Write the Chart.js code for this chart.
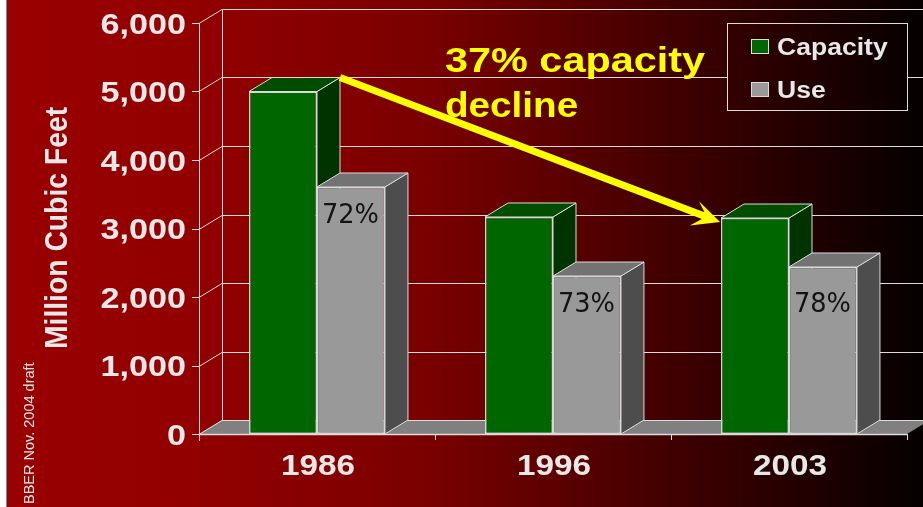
<!DOCTYPE html>
<html>
<head>
<meta charset="utf-8">
<title>Capacity and use</title>
<script src="https://cdn.jsdelivr.net/npm/chart.js@4"></script>
<style>
  html, body { margin: 0; padding: 0; background: #fff; overflow: hidden; }
  canvas { display: block; }
</style>
</head>
<body>
<canvas id="grafico" width="923" height="507"></canvas>
<script>
const anos = ['1986', '1996', '2003'];
const capacidade = [5000, 3168, 3153];
const uso = [3606, 2306, 2438];
const percentuais = ['72%', '73%', '78%'];
const percentualDesce = [29, 29, 38];
const tituloEixo = 'Million Cubic Feet';
const rodape = 'BBER Nov. 2004 draft';
const destaque = ['37% capacity', 'decline'];
const destaqueLargura = [1.2, 1.12];

const prof = { x: 23, y: -14 };
const linha = '#dcdcdc';
const texto = '#e8e8e8';
const faces = [
  { frente: '#006600', topo: '#004d00', lado: '#003300' },
  { frente: '#999999', topo: '#737373', lado: '#4d4d4d' }
];

function fundo(ctx) {
  const g = ctx.createLinearGradient(7, 0, 923, 0);
  g.addColorStop(0, '#990000');
  g.addColorStop(0.21, '#920000');
  g.addColorStop(0.46, '#7a0000');
  g.addColorStop(0.73, '#400000');
  g.addColorStop(1, '#060000');
  return g;
}

function seg(ctx, x1, y1, x2, y2) {
  ctx.beginPath();
  ctx.moveTo(x1, y1);
  ctx.lineTo(x2, y2);
  ctx.stroke();
}

function poligono(ctx, pts, cor) {
  ctx.beginPath();
  pts.forEach((p, i) => i ? ctx.lineTo(p[0], p[1]) : ctx.moveTo(p[0], p[1]));
  ctx.closePath();
  ctx.fillStyle = cor;
  ctx.fill();
  ctx.stroke();
}

// o slide original foi esticado na horizontal, o texto precisa acompanhar
function textoLargo(ctx, str, x, y, alinha, sx) {
  ctx.save();
  ctx.translate(x, y);
  ctx.scale(sx, 1);
  ctx.textAlign = alinha;
  ctx.fillText(str, 0, 0);
  ctx.restore();
}

const cenario = {
  id: 'cenario',
  beforeDraw(chart) {
    const ctx = chart.ctx;
    ctx.save();
    ctx.fillStyle = '#ffffff';
    ctx.fillRect(0, 0, 923, 507);
    ctx.fillStyle = '#6f8f90';
    ctx.fillRect(6, 0, 1, 507);
    ctx.fillStyle = fundo(ctx);
    ctx.fillRect(7, 0, 916, 507);
    ctx.restore();
  },
  beforeDatasetsDraw(chart) {
    const ctx = chart.ctx;
    const { x, y } = chart.scales;
    const esq = x.left, dir = x.right, base = y.getPixelForValue(0), alto = y.getPixelForValue(6000);
    ctx.save();
    ctx.strokeStyle = linha;
    ctx.lineWidth = 1;

    // chao
    ctx.fillStyle = '#808080';
    ctx.beginPath();
    ctx.moveTo(esq, base);
    ctx.lineTo(esq + prof.x, base + prof.y);
    ctx.lineTo(dir + prof.x, base + prof.y);
    ctx.lineTo(dir, base);
    ctx.closePath();
    ctx.fill();

    // grade das paredes
    y.ticks.forEach(t => {
      const py = Math.round(y.getPixelForValue(t.value)) + 0.5;
      seg(ctx, esq - 7, py, esq, py);
      seg(ctx, esq, py, esq + prof.x, py + prof.y);
      seg(ctx, esq + prof.x, py + prof.y, dir + prof.x, py + prof.y);
    });
    seg(ctx, esq + 0.5, alto, esq + 0.5, base + 7);
    seg(ctx, esq + prof.x + 0.5, alto + prof.y, esq + prof.x + 0.5, base + prof.y);
    ctx.lineWidth = 1.5;
    seg(ctx, esq, base + 0.5, dir, base + 0.5);
    ctx.lineWidth = 1;
    for (let i = 1; i <= anos.length; i++) {
      const px = Math.round(esq + (dir - esq) * i / anos.length) + 0.5;
      seg(ctx, px, base, px, base + 6);
    }

    // lados e topos das barras
    anos.forEach((_, i) => {
      faces.forEach((f, d) => {
        const b = chart.getDatasetMeta(d).data[i];
        const l = b.x - b.width / 2, r = b.x + b.width / 2;
        poligono(ctx, [[r, b.y], [r + prof.x, b.y + prof.y], [r + prof.x, b.base + prof.y], [r, b.base]], f.lado);
        poligono(ctx, [[l, b.y], [l + prof.x, b.y + prof.y], [r + prof.x, b.y + prof.y], [r, b.y]], f.topo);
      });
    });
    ctx.restore();
  },
  afterDatasetsDraw(chart) {
    const ctx = chart.ctx;
    ctx.save();
    ctx.textBaseline = 'middle';
    ctx.font = '27px "DejaVu Sans"';
    ctx.fillStyle = '#141414';
    chart.getDatasetMeta(1).data.forEach((b, i) => {
      textoLargo(ctx, percentuais[i], b.x - 0.5, b.y + percentualDesce[i], 'center', 0.95);
    });
    ctx.restore();
  },
  afterDraw(chart) {
    const ctx = chart.ctx;
    const { x, y } = chart.scales;
    ctx.save();

    // rotulos dos eixos
    ctx.fillStyle = texto;
    ctx.textBaseline = 'middle';
    ctx.font = 'bold 30px "Liberation Sans"';
    y.ticks.forEach(t => {
      textoLargo(ctx, t.label, x.left - 13, y.getPixelForValue(t.value) + 2.5, 'right', 1.14);
    });
    ctx.font = 'bold 30px "Liberation Sans"';
    x.ticks.forEach((t, i) => {
      textoLargo(ctx, t.label, x.getPixelForTick(i) + 1, 467, 'center', 1.11);
    });

    // titulo do eixo e rodape
    ctx.textBaseline = 'alphabetic';
    ctx.save();
    ctx.translate(67, 228);
    ctx.rotate(-Math.PI / 2);
    ctx.scale(1, 1.1);
    ctx.textAlign = 'center';
    ctx.font = 'bold 28.3px "Liberation Sans"';
    ctx.fillText(tituloEixo, 0, 0);
    ctx.restore();
    ctx.save();
    ctx.translate(34, 504);
    ctx.rotate(-Math.PI / 2);
    ctx.textAlign = 'left';
    ctx.font = '14.5px "Liberation Sans"';
    ctx.fillText(rodape, 0, 0);
    ctx.restore();

    // seta amarela
    const a = chart.getDatasetMeta(0).data[0];
    const c = chart.getDatasetMeta(0).data[2];
    const x1 = a.x + a.width / 2 + prof.x, y1 = a.y + prof.y;
    const x2 = c.x - c.width / 2 - 1, y2 = c.y + 4;
    const ang = Math.atan2(y2 - y1, x2 - x1);
    const comp = Math.hypot(x2 - x1, y2 - y1);
    ctx.save();
    ctx.translate(x2, y2);
    ctx.rotate(ang);
    ctx.fillStyle = '#ffff00';
    ctx.beginPath();
    ctx.moveTo(-comp, -3.5);
    ctx.lineTo(-18, -3.5);
    ctx.lineTo(-27, -12);
    ctx.lineTo(0, 0);
    ctx.lineTo(-27, 14);
    ctx.lineTo(-18, 3.5);
    ctx.lineTo(-comp, 3.5);
    ctx.closePath();
    ctx.fill();
    ctx.restore();

    // texto em destaque
    ctx.fillStyle = '#ffff00';
    ctx.font = 'bold 34.5px "Liberation Sans"';
    textoLargo(ctx, destaque[0], 445, 72, 'left', destaqueLargura[0]);
    textoLargo(ctx, destaque[1], 445, 117, 'left', destaqueLargura[1]);

    // legenda
    ctx.fillStyle = fundo(ctx);
    ctx.strokeStyle = linha;
    ctx.lineWidth = 1;
    ctx.fillRect(727.5, 23.5, 180, 87);
    ctx.strokeRect(727.5, 23.5, 180, 87);
    ctx.font = 'bold 23.5px "Liberation Sans"';
    chart.data.datasets.forEach((ds, i) => {
      const ly = 39 + i * 43;
      ctx.fillStyle = ds.backgroundColor;
      ctx.fillRect(751.5, ly + 0.5, 17, 14);
      ctx.strokeRect(751.5, ly + 0.5, 17, 14);
      ctx.fillStyle = texto;
      textoLargo(ctx, ds.label, 777, ly + 16, 'left', 1.13);
    });
    ctx.restore();
  }
};

new Chart(document.getElementById('grafico').getContext('2d'), {
  type: 'bar',
  data: {
    labels: anos,
    datasets: [
      { label: 'Capacity', data: capacidade, backgroundColor: faces[0].frente },
      { label: 'Use', data: uso, backgroundColor: faces[1].frente }
    ]
  },
  options: {
    responsive: false,
    animation: false,
    layout: { padding: { top: 23, right: 16, left: 0, bottom: 0 } },
    categoryPercentage: 0.576,
    barPercentage: 1,
    datasets: { bar: { borderColor: '#d8d8d8', borderWidth: 1.5, borderSkipped: false } },
    plugins: { legend: { display: false }, title: { display: false }, tooltip: { enabled: false } },
    scales: {
      x: {
        grid: { display: false },
        border: { display: false },
        afterFit(s) { s.height = 73; },
        ticks: { display: false, maxRotation: 0 }
      },
      y: {
        min: 0,
        max: 6000,
        grid: { display: false },
        border: { display: false },
        afterFit(s) { s.width = 199; },
        ticks: {
          display: false,
          stepSize: 1000,
          callback: v => v.toLocaleString('en-US')
        }
      }
    }
  },
  plugins: [cenario]
});
</script>
</body>
</html>
